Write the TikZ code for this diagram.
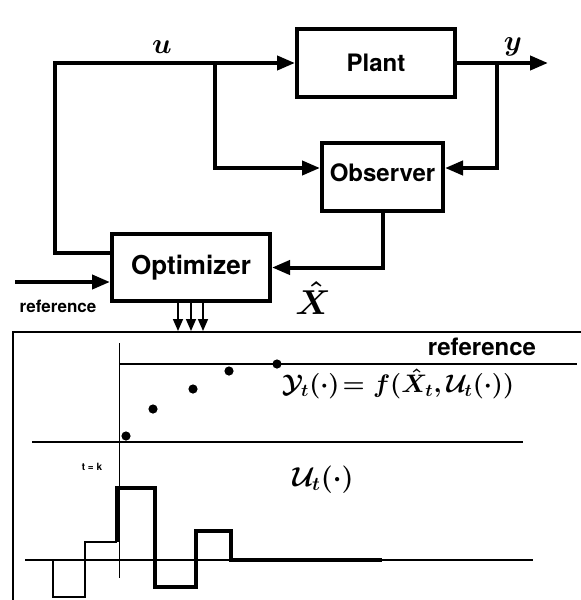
\documentclass[tikz,border=0pt]{standalone}
\usepackage{amsmath}
\usepackage{fontspec}
\setsansfont{TeX Gyre Heros}
\usepackage{tikz}
\usetikzlibrary{arrows.meta}

\begin{document}
\begin{tikzpicture}[
  x=0.5pt,y=-0.5pt,
  blk/.style={draw,line width=2pt,minimum height=34pt,inner sep=0pt,
              font=\fontsize{12}{14}\selectfont\sffamily\bfseries},
  a/.style={-{Triangle[length=9pt,width=7pt]},line width=2pt},
  sa/.style={-{Triangle[length=6pt,width=5pt]},line width=0.8pt},
  ml/.style={font=\fontsize{14}{16}\selectfont\boldmath,inner sep=0pt},
  rf/.style={font=\sffamily\bfseries,inner sep=0pt},
  thn/.style={line width=1pt},
  stp/.style={line width=2.3pt}]
\useasboundingbox (0,0) rectangle (581,600);

% ------------------------------- loop -------------------------------------
\node[blk,minimum width=79pt] (plant) at (376,63) {Plant};
\node[blk,minimum width=60.5pt] (obs) at (382.5,177) {\raisebox{4pt}{Observer}};
\node[blk,minimum width=79pt,minimum height=33.5pt] (opt) at (191,267.5)
  {\fontsize{13}{14}\selectfont Optimizer};

\coordinate (ul) at (55,0);
\coordinate (uj) at (215,0);
\coordinate (yj) at (497,0);
\coordinate (yout) at (548,0);
\coordinate (refin) at (15,282);

\draw[a] ([yshift=7.25pt]opt.west) -| (ul |- plant.west) -- (plant.west);
\draw[a] (uj |- plant.west) |- ([yshift=4.5pt]obs.west);
\draw[a] (plant.east) -- (yout |- plant.east);
\draw[a] (yj |- plant.east) |- ([yshift=4.5pt]obs.east);
\draw[a] (obs.south) |- (opt.east);
\draw[a] (refin) -- (refin -| opt.west);
\foreach \d in {-6.5,0,6}
  \draw[sa] ([xshift=\d pt]opt.south) -- ++(0,28);

\node[ml] (lu) at (162,47) {$u$};
\node[ml] (ly) at (513,47) {$y$};
\node[ml,font=\fontsize{16}{18}\selectfont\boldmath] (lx) at (313,298) {$\hat{X}$};
\node[rf,font=\fontsize{8.5}{10}\selectfont\sffamily\bfseries] (lref) at (58,306) {reference};

% ------------------------------ horizon -----------------------------------
\draw[thn] (581,332) -- (13,332) -- (13,600);
\draw[line width=0.5pt] (119,343) -- (119,578);
\draw[thn] (119,364) -- (577,364);
\draw[thn] (32,442) -- (523,442);
\node[rf,font=\fontsize{12}{14}\selectfont\sffamily\bfseries] (href) at (482,347) {reference};
\foreach \p in {(126,436),(153,409),(193,389),(229,371),(277,364)}
  \fill \p circle (2.3pt);
\node[ml] (yf) at (398,384)
  {\scalebox{0.88}{$\mathcal{Y}_t(\cdot)\!= f(\hat{X}_t,\mathcal{U}_t(\cdot))$}};
\node[rf,font=\fontsize{5}{6}\selectfont\sffamily\bfseries] (tk) at (92,467) {t = k};
\node[ml] (uf) at (323,480) {\scalebox{0.95}{$\mathcal{U}_t(\cdot)$}};

% input sequence: past thin, planned thick
\draw[thn] (25,560) -- (533,560);
\draw[thn] (53,560) -- (53,597) -- (85,597) -- (85,542) -- (117,542);
\draw[stp] (117,542) -- (117,488) -- (155,488) -- (155,587) -- (196,587)
  -- (196,531) -- (231,531) -- (231,560) -- (382,560);
\end{tikzpicture}
\end{document}
